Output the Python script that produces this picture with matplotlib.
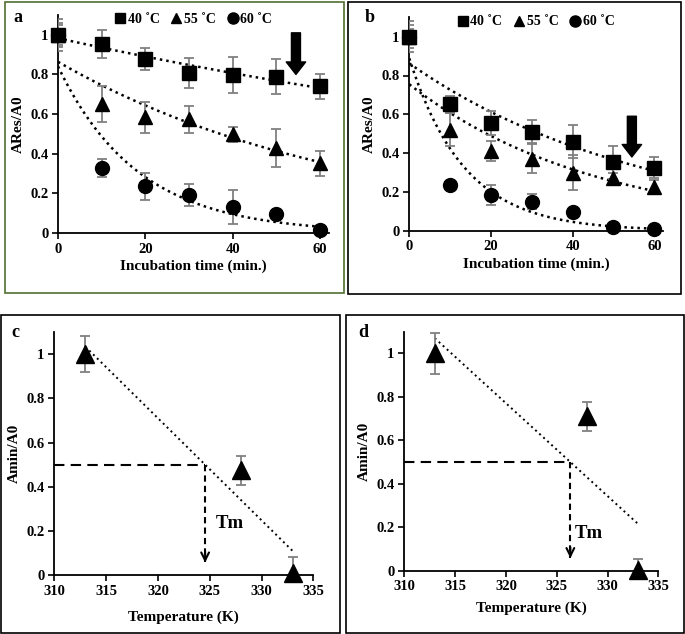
import numpy as np
import matplotlib
matplotlib.use("Agg")
import matplotlib.pyplot as plt
from matplotlib.patches import Rectangle

plt.rcParams["font.family"] = ["Liberation Serif", "DejaVu Serif"]
plt.rcParams["font.weight"] = "bold"
plt.rcParams["axes.labelweight"] = "bold"

# incubation data (panels a, b)
t = [0, 10, 20, 30, 40, 50, 60]
a_40 = [1.0, 0.954, 0.878, 0.807, 0.797, 0.789, 0.74]
a_40_err = [0.08, 0.072, 0.057, 0.076, 0.09, 0.087, 0.063]
a_55 = [1.0, 0.65, 0.583, 0.573, 0.498, 0.43, 0.352]
a_55_err = [0.06, 0.09, 0.08, 0.066, 0.037, 0.095, 0.062]
a_60 = [1.0, 0.33, 0.235, 0.19, 0.13, 0.096, 0.017]
a_60_err = [0.05, 0.045, 0.066, 0.055, 0.085, 0.0, 0.0]

b_40 = [1.0, 0.651, 0.557, 0.51, 0.459, 0.352, 0.325]
b_40_err = [0.08, 0.045, 0.062, 0.06, 0.085, 0.085, 0.055]
b_55 = [1.0, 0.52, 0.41, 0.37, 0.30, 0.27, 0.225]
b_55_err = [0.06, 0.085, 0.053, 0.075, 0.09, 0.03, 0.035]
b_60 = [1.0, 0.235, 0.184, 0.15, 0.095, 0.017, 0.007]
b_60_err = [0.04, 0.02, 0.052, 0.04, 0.02, 0.0, 0.0]

# melting data (panels c, d)
temp = [313, 328, 333]
c_amin = [1.0, 0.475, 0.01]
c_err = [0.08, 0.065, 0.072]
d_amin = [1.0, 0.71, 0.005]
d_err = [0.095, 0.065, 0.05]

labels = ["40 \u02daC", "55 \u02daC", "60 \u02daC"]
markers = ["s", "^", "o"]

W, H = 685, 634
fig = plt.figure(figsize=(W / 100, H / 100), dpi=100)


def px_axes(x0, x1, y_top, y_bot):
    return fig.add_axes([x0 / W, 1 - y_bot / H, (x1 - x0) / W, (y_bot - y_top) / H])


def frame(x0, x1, y0, y1, color="black"):
    fig.add_artist(Rectangle((x0 / W, 1 - y1 / H), (x1 - x0) / W, (y1 - y0) / H,
                             transform=fig.transFigure, fill=False, edgecolor=color, lw=1.2))


def style(ax):
    for s in ["top", "right"]:
        ax.spines[s].set_visible(False)
    for s in ["left", "bottom"]:
        ax.spines[s].set_linewidth(1.3)
    ax.tick_params(direction="out", length=4, width=1.2, labelsize=10.5, pad=3)


def exp_trend(ax, x, y):
    k, c = np.polyfit(x, np.log(y), 1)
    xs = np.linspace(min(x), max(x), 200)
    ax.plot(xs, np.exp(c) * np.exp(k * xs), ls=(0, (1, 1.6)), color="black", lw=1.8, zorder=2)


def incubation(ax, series, errs, arrow_y):
    for y, e, m, lab in zip(series, errs, markers, labels):
        ax.errorbar(t, y, yerr=e, fmt="none", ecolor="#808080", elinewidth=1.3,
                    capsize=3.5, capthick=1.3, zorder=3)
        exp_trend(ax, t, y)
        ax.plot(t, y, m, color="black", ms=10 if m == "o" else 9.5, ls="none",
                label=lab, zorder=4, clip_on=False)
    ax.set_xlim(0, 62)
    ax.set_ylim(0, 1.1)
    ax.set_xticks([0, 20, 40, 60])
    ax.set_yticks([0, 0.2, 0.4, 0.6, 0.8, 1])
    ax.set_yticklabels(["0", "0.2", "0.4", "0.6", "0.8", "1"])
    ax.set_xlabel("Incubation time (min.)", fontsize=11, labelpad=3)
    ax.set_ylabel("ARes/A0", fontsize=11, labelpad=4)
    ax.legend(loc="upper center", bbox_to_anchor=(0.5, 1.035), ncol=3, frameon=False,
              fontsize=10, handlelength=0.8, handletextpad=0.15, columnspacing=0.8,
              markerscale=0.8, borderaxespad=0)
    ax.annotate("", xy=(54.5, arrow_y[1]), xytext=(54.5, arrow_y[0]),
                arrowprops=dict(facecolor="black", edgecolor="black", width=6.5,
                                headwidth=14, headlength=9), zorder=5)
    style(ax)


def melting(ax, y, e, tm_text, xpad):
    k, c = np.polyfit(temp, y, 1)
    xs = np.array([min(temp), max(temp)])
    ax.plot(xs, k * xs + c, ls=(0, (1, 1.8)), color="black", lw=1.4, zorder=2)
    tm = (0.5 - c) / k
    ax.plot([310, tm], [0.5, 0.5], ls=(0, (5, 3)), color="black", lw=1.5)
    ax.plot([tm, tm], [0.5, 0.06], ls=(0, (3, 2)), color="black", lw=1.5)
    ax.annotate("", xy=(tm, 0.045), xytext=(tm, 0.12),
                arrowprops=dict(arrowstyle="->", lw=1.5, color="black", mutation_scale=14))
    ax.errorbar(temp, y, yerr=e, fmt="none", ecolor="#808080", elinewidth=1.3,
                capsize=3.5, capthick=1.3, zorder=3)
    ax.plot(temp, y, "^", color="black", ms=13, ls="none", zorder=4, clip_on=False)
    ax.text(tm_text[0], tm_text[1], "Tm", fontsize=13.5, ha="center", va="center")
    ax.set_xlim(310, 335)
    ax.set_ylim(0, 1.1)
    ax.set_xticks([310, 315, 320, 325, 330, 335])
    ax.set_yticks([0, 0.2, 0.4, 0.6, 0.8, 1])
    ax.set_yticklabels(["0", "0.2", "0.4", "0.6", "0.8", "1"])
    ax.set_xlabel("Temperature (K)", fontsize=11, labelpad=xpad)
    ax.set_ylabel("Amin/A0", fontsize=11, labelpad=4)
    style(ax)


ax_a = px_axes(58, 328.7, 15, 233)
incubation(ax_a, [a_40, a_55, a_60], [a_40_err, a_55_err, a_60_err], (1.01, 0.80))

ax_b = px_axes(409.3, 662.5, 17.3, 230.7)
incubation(ax_b, [b_40, b_55, b_60], [b_40_err, b_55_err, b_60_err], (0.59, 0.38))

ax_c = px_axes(54.3, 313.3, 332, 575.3)
melting(ax_c, c_amin, c_err, (326.9, 0.235), 9)

ax_d = px_axes(404.3, 658.3, 331.7, 570.7)
melting(ax_d, d_amin, d_err, (328.2, 0.17), 6)

frame(5, 344, 1.5, 293, color="#4f6f2f")
frame(348, 681, 2, 294)
frame(1, 340, 315, 632.5)
frame(346, 683.5, 315, 632.5)

for lab, (x, y) in zip("abcd", [(18, 18), (370, 17), (15, 333), (363, 333)]):
    fig.text(x / W, 1 - y / H, lab, fontsize=13, ha="center", va="center")

fig.savefig("out.png", dpi=100)
